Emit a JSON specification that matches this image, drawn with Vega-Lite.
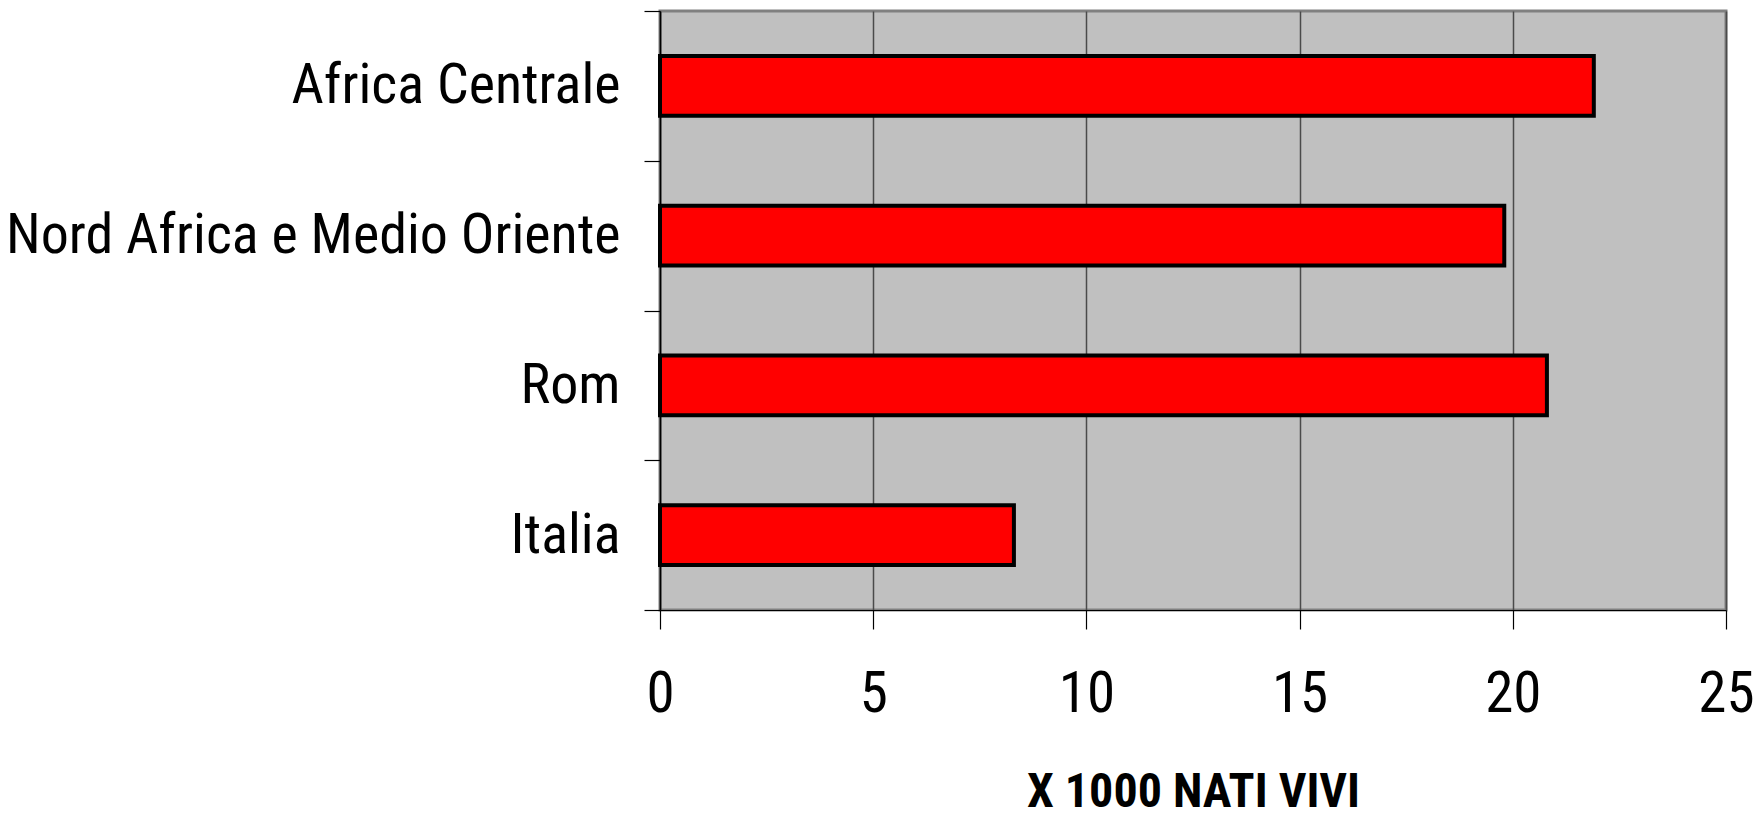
{
  "$schema": "https://vega.github.io/schema/vega-lite/v6.json",
  "autosize": "none",
  "width": 1066,
  "height": 599,
  "padding": {"left": 660, "top": 11, "right": 34, "bottom": 207},
  "background": "#ffffff",
  "data": {
    "values": [
      {"area": "Africa Centrale", "value": 21.9},
      {"area": "Nord Africa e Medio Oriente", "value": 19.8},
      {"area": "Rom", "value": 20.8},
      {"area": "Italia", "value": 8.3}
    ]
  },
  "mark": {
    "type": "bar",
    "color": "#FF0000",
    "stroke": "#000000",
    "strokeWidth": 4,
    "height": {"band": 0.4}
  },
  "encoding": {
    "y": {
      "field": "area",
      "type": "nominal",
      "sort": null,
      "scale": {"paddingInner": 0, "paddingOuter": 0},
      "axis": {
        "title": null,
        "tickBand": "extent",
        "grid": false,
        "domain": true,
        "domainColor": "#000000",
        "domainWidth": 1.5,
        "ticks": true,
        "tickColor": "#000000",
        "tickSize": 16,
        "tickWidth": 1.2,
        "labelFont": "Roboto Condensed, Roboto",
        "labelFontSize": 56,
        "labelColor": "#000000",
        "labelPadding": 24,
        "labelLimit": 0
      }
    },
    "x": {
      "field": "value",
      "type": "quantitative",
      "scale": {"domain": [0, 25], "nice": false},
      "axis": {
        "values": [0, 5, 10, 15, 20, 25],
        "title": "X 1000 NATI VIVI",
        "titleFont": "Roboto Condensed, Roboto",
        "titleFontSize": 48,
        "titleFontWeight": "bold",
        "titleColor": "#000000",
        "titlePadding": 46,
        "grid": true,
        "gridColor": "#4a4a4a",
        "gridWidth": 1.5,
        "domain": true,
        "domainColor": "#000000",
        "domainWidth": 1,
        "ticks": true,
        "tickColor": "#000000",
        "tickSize": 19,
        "tickWidth": 1.2,
        "labelFont": "Roboto Condensed, Roboto",
        "labelFontSize": 57,
        "labelColor": "#000000",
        "labelPadding": 37,
        "labelFlush": false
      }
    }
  },
  "config": {
    "view": {"fill": "#C0C0C0", "stroke": "#808080", "strokeWidth": 3}
  }
}
